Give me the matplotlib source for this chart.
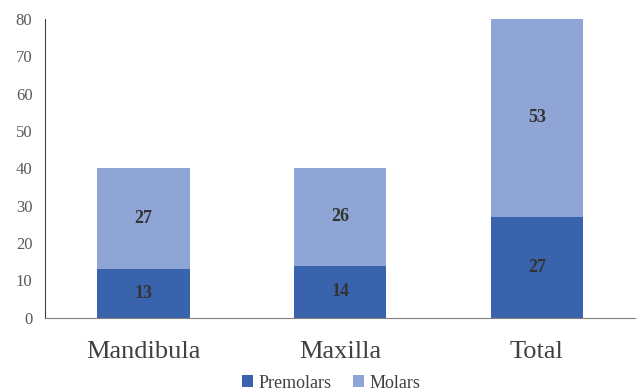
import numpy as np
import matplotlib.pyplot as plt

plt.rcParams['font.family'] = ['Liberation Serif', 'DejaVu Serif']

# данные
categories = ['Mandibula', 'Maxilla', 'Total']
premolars = [13, 14, 27]
molars = [27, 26, 53]

c_dark = '#3a63ae'
c_light = '#8fa5d5'

fig = plt.figure(figsize=(6.38, 3.91), dpi=100)
ax = fig.add_axes([0.0705, 0.187, 0.925, 0.765])

x = np.arange(len(categories))
w = 0.47
ax.bar(x, premolars, w, color=c_dark, label='Premolars')
ax.bar(x, molars, w, bottom=premolars, color=c_light, label='Molars')

# подписи значений
for i in range(len(categories)):
    ax.text(x[i], premolars[i] / 2, str(premolars[i]), ha='center', va='center',
            fontsize=13, fontweight='bold', color='#333333')
    ax.text(x[i], premolars[i] + molars[i] / 2, str(molars[i]), ha='center', va='center',
            fontsize=13, fontweight='bold', color='#333333')

ax.set_xlim(-0.5, len(categories) - 0.5)
ax.set_ylim(0, 80)
ax.set_yticks(np.arange(0, 81, 10))
ax.set_xticks(x)
ax.set_xticklabels(categories, fontsize=19, color='#404040')
ax.tick_params(axis='y', length=0, labelsize=12, labelcolor='#595959', pad=9)
ax.tick_params(axis='x', length=0, pad=17)

for s in ['top', 'right']:
    ax.spines[s].set_visible(False)
ax.spines['left'].set_color('#404040')
ax.spines['bottom'].set_color('#808080')

ax.legend(loc='upper center', bbox_to_anchor=(0.485, -0.135), ncol=2, frameon=False,
          fontsize=13, handlelength=0.6, handleheight=0.6, handletextpad=0.3,
          columnspacing=1.2, labelcolor='#404040')

fig.savefig('out.png')
